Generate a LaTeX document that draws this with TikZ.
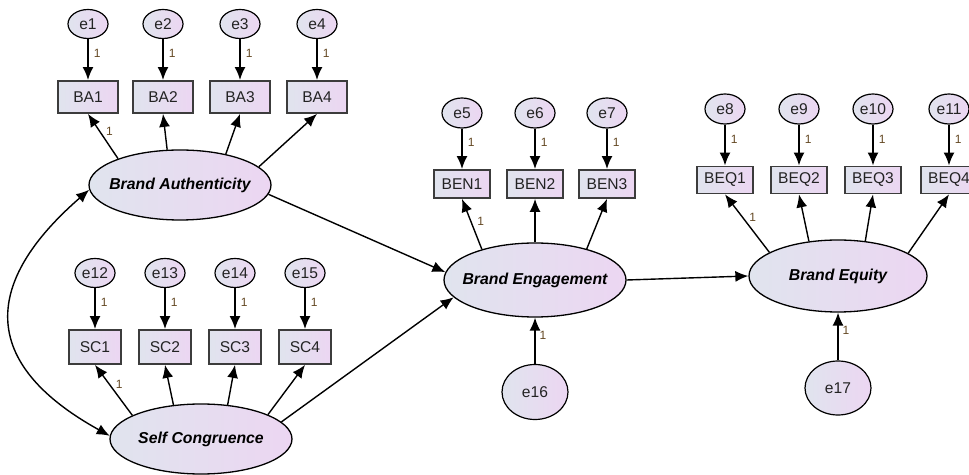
\documentclass[tikz,border=0pt]{standalone}
\usepackage{fontspec}
\setmainfont{Liberation Sans}
\usetikzlibrary{arrows.meta,shapes.geometric}

\begin{document}
\begin{tikzpicture}[x=0.5pt,y=0.5pt,
    latent/.style={ellipse,draw=black,line width=0.65pt,inner sep=0pt,
        minimum width=91pt,minimum height=35pt,
        left color=fillL,right color=fillR,
        font=\fontsize{7.9}{9}\selectfont\bfseries\itshape},
    err/.style={ellipse,draw=black,line width=0.6pt,inner sep=0pt,
        minimum width=20pt,minimum height=14.5pt,
        left color=fillL,right color=fillR,text=textgray,
        font=\fontsize{7.8}{9}\selectfont},
    obs/.style={rectangle,draw=boxgray,line width=0.9pt,inner sep=0pt,
        minimum width=28pt,minimum height=14pt,
        left color=fillL,right color=fillR,text=textgray,
        font=\fontsize{7.8}{9}\selectfont},
    regarrow/.style={line width=0.7pt,-{Latex[length=6.5pt,width=5.5pt]}},
    errarrow/.style={line width=0.95pt,-{Latex[length=6.5pt,width=5.5pt]}},
    wt/.style={text=onebrown,font=\fontsize{6}{7}\selectfont,inner sep=1pt}]
    \definecolor{fillL}{RGB}{224,228,238}
    \definecolor{fillR}{RGB}{236,214,242}
    \definecolor{boxgray}{RGB}{60,60,60}
    \definecolor{textgray}{RGB}{35,35,35}
    \definecolor{onebrown}{RGB}{100,72,35}

    \useasboundingbox (0,0) rectangle (969,-475);
    \clip (0,0) rectangle (969,-475);

    % latent variables
    \node[latent] (auth) at (180,-185) {\makebox[0pt]{Brand Authenticity}};
    \node[latent] (cong) at (201,-439) {\makebox[0pt]{Self Congruence}};
    \node[latent,minimum height=37pt] (eng) at (535,-280)
        {\makebox[0pt]{Brand Engagement}};
    \node[latent,minimum width=89pt,minimum height=36pt] (equity) at (838,-276)
        {\makebox[0pt]{Brand Equity}};

    % brand authenticity items
    \foreach \i/\x in {1/88,2/163,3/240,4/317} {
        \node[err] (e\i) at (\x,-24) {e\i};
        \node[obs,minimum width=30pt,minimum height=16pt] (ba\i) at (\x,-97) {BA\i};
        \draw[errarrow] (e\i) -- node[wt,pos=0.35,right=1.5pt]{1} (ba\i);
    }
    \draw[regarrow] (auth.157) -- node[wt,pos=0.62,right=2pt]{1} (ba1.south);
    \foreach \n/\a in {2/110,3/34,4/13}
        \draw[regarrow] (auth.\a) -- (ba\n.south);

    % self congruence items
    \foreach \i/\n/\x in {12/1/95,13/2/165,14/3/235,15/4/305} {
        \node[err] (e\i) at (\x,-273) {e\i};
        \node[obs,minimum width=26pt,minimum height=17pt] (sc\n) at (\x,-347) {SC\n};
        \draw[errarrow] (e\i) -- node[wt,pos=0.35,right=1.5pt]{1} (sc\n);
    }
    \draw[regarrow] (cong.161) -- node[wt,pos=0.62,right=2pt]{1} (sc1.south);
    \foreach \n/\a in {2/129,3/52,4/20}
        \draw[regarrow] (cong.\a) -- (sc\n.south);

    % brand engagement items
    \foreach \i/\n/\x in {5/1/462,6/2/535,7/3/607} {
        \node[err,minimum height=15pt] (e\i) at (\x,-113) {e\i};
        \node[obs] (ben\n) at (\x,-184) {BEN\n};
        \draw[errarrow] (e\i) -- node[wt,pos=0.35,right=1.5pt]{1} (ben\n);
    }
    \draw[regarrow] (eng.150) -- node[wt,pos=0.56,right=2pt]{1} (ben1.south);
    \foreach \n/\a in {2/90,3/31}
        \draw[regarrow] (eng.\a) -- (ben\n.south);

    % brand equity items
    \foreach \i/\n/\x in {8/1/725,9/2/799,10/3/873,11/4/949} {
        \node[err,minimum height=15pt] (e\i) at (\x,-109) {e\i};
        \node[obs,minimum height=13.5pt] (beq\n) at (\x,-180) {BEQ\n};
        \draw[errarrow] (e\i) -- node[wt,pos=0.35,right=1.5pt]{1} (beq\n);
    }
    \draw[regarrow] (equity.161) -- node[wt,pos=0.6,right=2pt]{1} (beq1.south);
    \foreach \n/\a in {2/130,3/52,4/18}
        \draw[regarrow] (equity.\a) -- (beq\n.south);

    % disturbances
    \node[err,minimum width=33pt,minimum height=27.5pt] (e16) at (535,-392) {e16};
    \node[err,minimum width=33pt,minimum height=27pt] (e17) at (838,-388) {e17};
    \draw[regarrow] (e16) -- node[wt,pos=0.62,right=1pt]{1} (eng);
    \draw[regarrow] (e17) -- node[wt,pos=0.62,right=1pt]{1} (equity);

    % structural paths
    \draw[regarrow] (auth.-6) -- (eng.175);
    \draw[regarrow] (cong.12) -- (eng.192);
    \draw[regarrow] (eng.east) -- (equity.west);

    % covariance
    \draw[line width=0.7pt,{Latex[length=6.5pt,width=5.5pt]}-{Latex[length=6.5pt,width=5.5pt]}]
        (auth.183) to[out=221,in=151,out distance=65pt,in distance=80pt] (cong.178);
\end{tikzpicture}
\end{document}
